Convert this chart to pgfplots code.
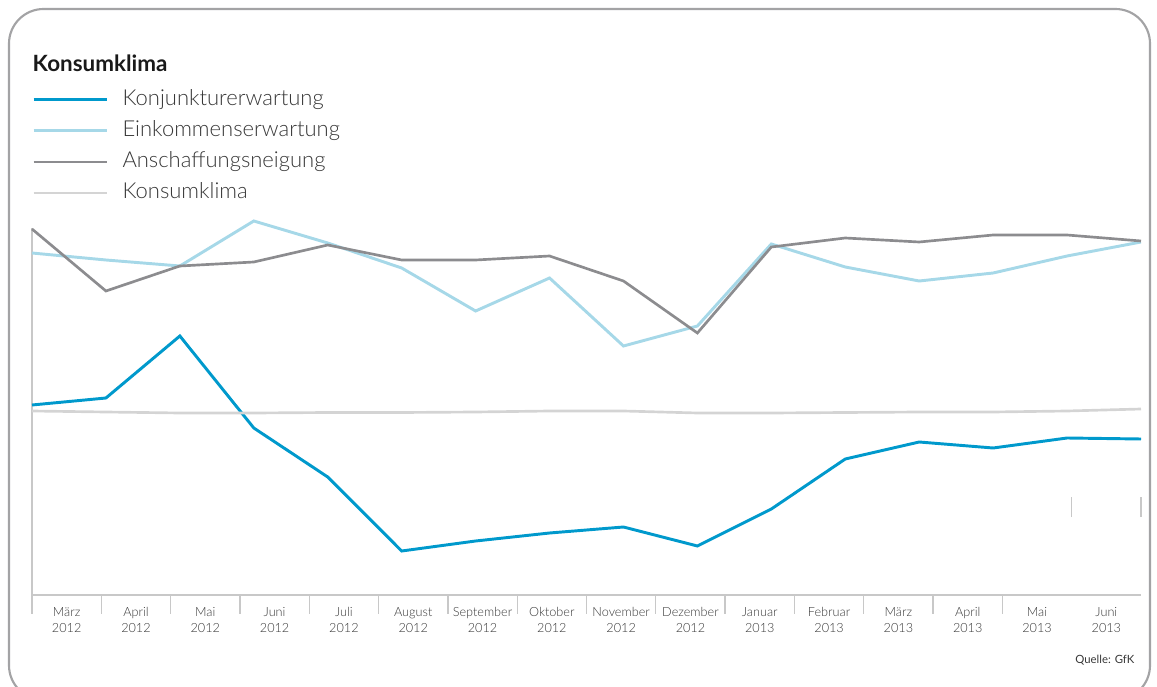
\documentclass[border=0pt]{standalone}
\usepackage{fontspec}
\setmainfont{Lato}
\newfontfamily\lightfont{Lato Light}
\usepackage{pgfplots}
\pgfplotsset{compat=1.18}
\definecolor{cDark}{RGB}{0,153,204}
\definecolor{cLight}{RGB}{166,216,232}
\definecolor{cGray}{RGB}{140,140,143}
\definecolor{cKlima}{RGB}{212,212,212}
\definecolor{cAxis}{RGB}{200,200,200}
\definecolor{cText}{RGB}{55,55,55}
\begin{document}
\begin{tikzpicture}
\begin{scope}[x=0.75pt,y=0.75pt]
\useasboundingbox (0,0) rectangle (1157,686);
\begin{scope}
\clip (0,0) rectangle (1157,686);
\draw[color=cGray!80, line width=1.6pt, rounded corners=26pt] (9,-14) rectangle (1150,677);
\end{scope}
\node[anchor=base west, font=\bfseries\fontsize{16.8}{19}\selectfont, text=black!90] at (28,614) {Konsumklima};
\node[anchor=base east, font=\fontsize{8.5}{10}\selectfont, text=cText] at (1139,23) {Quelle: GfK};
\end{scope}
\begin{axis}[
  at={(24pt,68.25pt)}, anchor=south west,
  scale only axis, width=831.75pt, height=275.25pt,
  xmin=0, xmax=15, ymin=0, ymax=367,
  axis x line=bottom, axis y line=left,
  axis line style={draw=cAxis, line width=1pt, -},
  ytick=\empty,
  xtick={0.46875,1.40625,2.34375,3.28125,4.21875,5.15625,6.09375,7.03125,7.96875,8.90625,9.84375,10.78125,11.71875,12.65625,13.59375,14.53125},
  xticklabels={März\\2012,April\\2012,Mai\\2012,Juni\\2012,Juli\\2012,August\\2012,September\\2012,Oktober\\2012,November\\2012,Dezember\\2012,Januar\\2013,Februar\\2013,März\\2013,April\\2013,Mai\\2013,Juni\\2013},
  major tick length=0pt,
  x tick label style={align=center, font=\lightfont\fontsize{9.5}{12}\selectfont, text=cText, yshift=-5.75pt},
  extra x ticks={0,0.9375,1.875,2.8125,3.75,4.6875,5.625,6.5625,7.5,8.4375,9.375,10.3125,11.25,12.1875,13.125},
  extra x tick labels={},
  extra x tick style={major tick length=14pt, tick align=outside, tick style={draw=cAxis, line width=1pt}},
  clip=false,
  legend style={at={(0,1.379)}, anchor=north west, draw=none, fill=none, inner sep=0pt,
    font=\lightfont\fontsize{16.5}{19}\selectfont, text=cText,
    nodes={text height=12pt, text depth=4pt, inner sep=0pt},
    row sep=7.25pt, column sep=10.5pt},
  legend cell align=left,
  legend image code/.code={\draw[#1] (0pt,0pt) -- (55pt,0pt);},
]
\addplot[cDark, line width=2.2pt] coordinates {(0,190)(1,197)(2,259)(3,167)(4,118)(5,44)(6,54)(7,62)(8,68)(9,49)(10,86)(11,136)(12,153)(13,147)(14,157)(15,156)};
\addlegendentry{Konjunkturerwartung}
\addplot[cLight, line width=2.2pt] coordinates {(0,342)(1,335)(2,329)(3,374)(4,352)(5,327)(6,284)(7,317)(8,249)(9,269)(10,351)(11,328)(12,314)(13,322)(14,339)(15,353)};
\addlegendentry{Einkommenserwartung}
\addplot[cGray, line width=2pt] coordinates {(0,366)(1,304)(2,329)(3,333)(4,350)(5,335)(6,335)(7,339)(8,314)(9,262)(10,348)(11,357)(12,353)(13,360)(14,360)(15,354)};
\addlegendentry{Anschaffungsneigung}
\addplot[cKlima, line width=2pt] coordinates {(0,184)(1,183)(2,182)(3,182)(4,182.5)(5,182.5)(6,183)(7,184)(8,184)(9,182)(10,182)(11,182.5)(12,183)(13,183)(14,184)(15,186)};
\addlegendentry{Konsumklima}
\draw[cAxis, line width=1pt] (axis cs:14.0625,78) -- (axis cs:14.0625,98);
\draw[cAxis, line width=1pt] (axis cs:15,78) -- (axis cs:15,98);
\end{axis}
\end{tikzpicture}
\end{document}
